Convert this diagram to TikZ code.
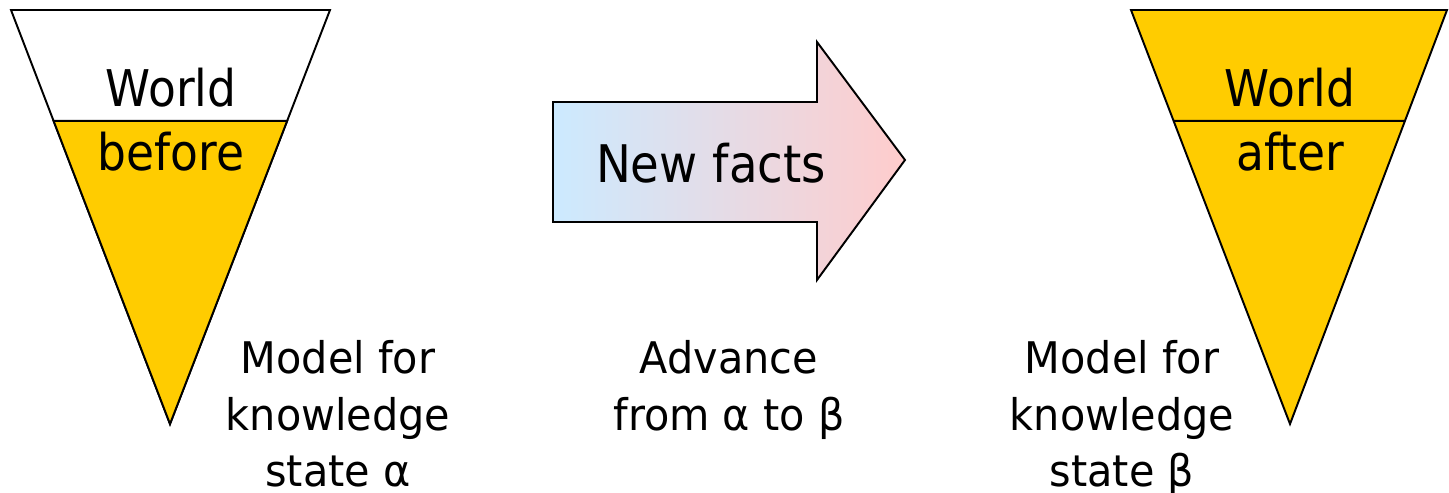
\documentclass[tikz,border=0pt]{standalone}
\usepackage{fontspec}
\setmainfont{DejaVu Sans}[FakeStretch=0.9]
\newfontfamily\captionfont{DejaVu Sans}[FakeStretch=0.95]
\usetikzlibrary{calc}
\definecolor{gold}{RGB}{255,204,0}
\definecolor{skyblue}{RGB}{204,234,255}
\definecolor{rosepink}{RGB}{255,204,204}
\begin{document}
\begin{tikzpicture}[x=0.02cm, y=-0.02cm, line width=1.1pt,
	big/.style={font=\fontsize{28.8}{34}\selectfont, inner sep=0pt, anchor=base},
	caption/.style={font=\captionfont\fontsize{24.8}{32.4}\selectfont, inner sep=0pt, anchor=north, align=center}]
	\useasboundingbox (0,0) rectangle (1449,493);
	\path 
	(11,10) coordinate (A1)
	(330,10) coordinate (B1)
	(170,424) coordinate (C1)
	(1131,10) coordinate (A2)
	(1447,10) coordinate (B2)
	(1290,424) coordinate (C2)
	($(A1)!.268!(C1)$) coordinate (P1)
	($(B1)!.268!(C1)$) coordinate (Q1)
	($(A2)!.268!(C2)$) coordinate (P2)
	($(B2)!.268!(C2)$) coordinate (Q2)
	;
	
	% world before
	\draw[fill=white] (A1)--(B1)--(C1)--cycle;
	\draw[fill=gold] (P1)--(Q1)--(C1)--cycle;
	% world after
	\draw[fill=gold] (A2)--(B2)--(C2)--cycle (P2)--(Q2);
	% new facts arrow
	\draw[left color=skyblue, right color=rosepink]
	(553,102)--(817,102)--(817,42)--(905,160)--(817,280)--(817,222)--(553,222)--cycle;
	
	\node[big] (world1) at (171,107) {World};
	\node[big] (before) at (171,171) {before};
	\node[big] (world2) at (1290,107) {World};
	\node[big] (after) at (1290,171) {after};
	\node[big, font=\fontsize{29.5}{34}\selectfont] (facts) at (711,183) {New facts};
	
	\node[caption] (alpha) at (338,339) {Model for\\knowledge\\state α};
	\node[caption] (advance) at (729,339) {Advance\\from α to β};
	\node[caption] (beta) at (1122,339) {Model for\\knowledge\\state β};
\end{tikzpicture}
\end{document}
